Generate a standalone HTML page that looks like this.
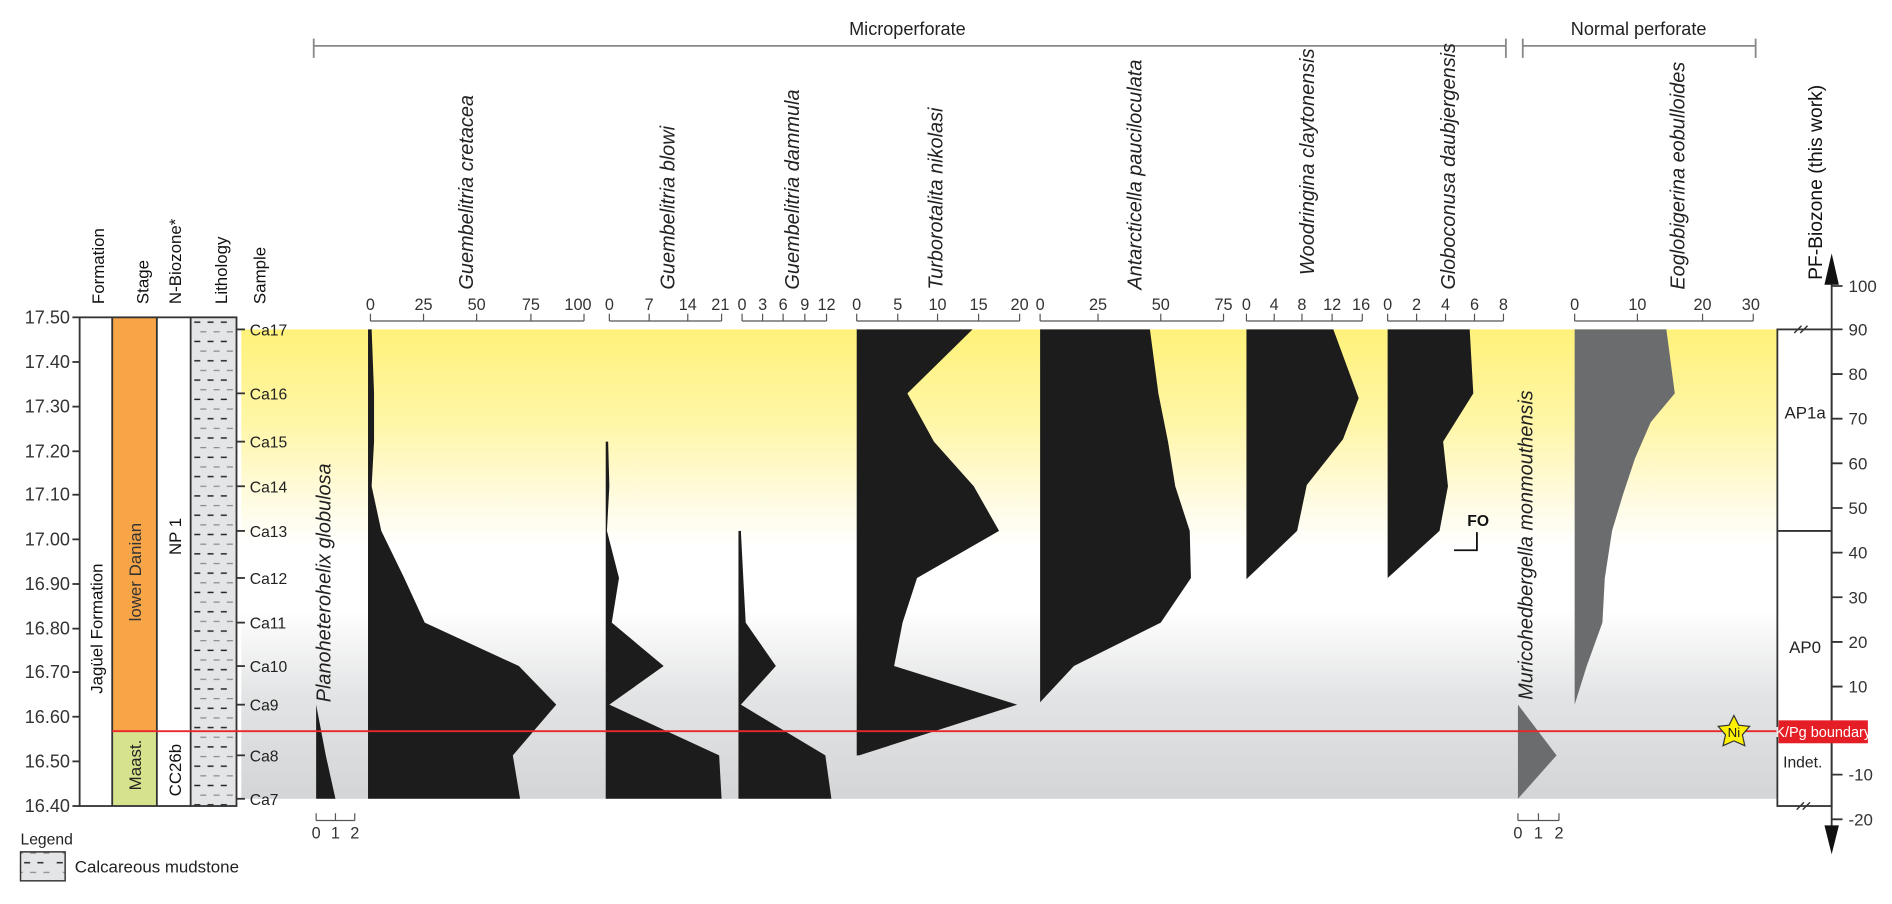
<!DOCTYPE html>
<html><head><meta charset="utf-8"><style>
html,body{margin:0;padding:0;background:#fff;}
svg{display:block;font-family:"Liberation Sans",sans-serif;}
</style></head><body>
<svg width="1892" height="904" viewBox="0 0 1568 749.2" preserveAspectRatio="none" xmlns="http://www.w3.org/2000/svg">
<defs>
<linearGradient id="bg" x1="0" y1="0" x2="0" y2="1">
<stop offset="0" stop-color="#fff27a"/>
<stop offset="0.2" stop-color="#fff6a8"/>
<stop offset="0.36" stop-color="#fffbe0"/>
<stop offset="0.46" stop-color="#ffffff"/>
<stop offset="0.6" stop-color="#ffffff"/>
<stop offset="0.78" stop-color="#e3e4e5"/>
<stop offset="1" stop-color="#d4d5d7"/>
</linearGradient>
<pattern id="lith" x="158" y="263" width="38" height="16" patternUnits="userSpaceOnUse">
<rect width="38" height="16" fill="#e4e5e6"/>
<g stroke="#222" stroke-width="1.2">
<line x1="3" y1="4" x2="8" y2="4"/><line x1="14" y1="4" x2="19" y2="4"/><line x1="25" y1="4" x2="30" y2="4"/>
</g>
<g stroke="#888" stroke-width="1">
<line x1="8" y1="12" x2="13" y2="12"/><line x1="19" y1="12" x2="24" y2="12"/><line x1="30" y1="12" x2="35" y2="12"/>
</g>
</pattern>
</defs>

<rect x="200" y="273" width="1273" height="389" fill="url(#bg)"/>

<g stroke="#888" stroke-width="1.5" fill="none">
<line x1="260" y1="38" x2="1248" y2="38"/><line x1="260" y1="32" x2="260" y2="48"/><line x1="1248" y1="32" x2="1248" y2="48"/>
<line x1="1262" y1="38" x2="1455" y2="38"/><line x1="1262" y1="32" x2="1262" y2="48"/><line x1="1455" y1="32" x2="1455" y2="48"/>
</g>
<text x="752" y="29" font-size="15" text-anchor="middle" fill="#222">Microperforate</text>
<text x="1358" y="29" font-size="15" text-anchor="middle" fill="#222">Normal perforate</text>

<g font-size="14" fill="#111">
<text transform="translate(86,252) rotate(-90)">Formation</text>
<text transform="translate(123,252) rotate(-90)">Stage</text>
<text transform="translate(150,252) rotate(-90)">N-Biozone*</text>
<text transform="translate(188,252) rotate(-90)">Lithology</text>
<text transform="translate(220,252) rotate(-90)">Sample</text>
</g>

<g font-size="15" fill="#333" text-anchor="end">
<text x="58" y="268">17.50</text><text x="58" y="305">17.40</text><text x="58" y="342">17.30</text>
<text x="58" y="379">17.20</text><text x="58" y="415">17.10</text><text x="58" y="452">17.00</text>
<text x="58" y="489">16.90</text><text x="58" y="526">16.80</text><text x="58" y="562">16.70</text>
<text x="58" y="599">16.60</text><text x="58" y="636">16.50</text><text x="58" y="673">16.40</text>
</g>
<g stroke="#333" stroke-width="1.5">
<line x1="60" y1="263" x2="66" y2="263"/><line x1="60" y1="300" x2="66" y2="300"/><line x1="60" y1="337" x2="66" y2="337"/>
<line x1="60" y1="374" x2="66" y2="374"/><line x1="60" y1="410" x2="66" y2="410"/><line x1="60" y1="447" x2="66" y2="447"/>
<line x1="60" y1="484" x2="66" y2="484"/><line x1="60" y1="521" x2="66" y2="521"/><line x1="60" y1="557" x2="66" y2="557"/>
<line x1="60" y1="594" x2="66" y2="594"/><line x1="60" y1="631" x2="66" y2="631"/><line x1="60" y1="668" x2="66" y2="668"/>
</g>

<rect x="66" y="263" width="27" height="405" fill="#fff"/>
<rect x="93" y="263" width="37" height="343" fill="#f7a547"/>
<rect x="93" y="606" width="37" height="62" fill="#d7e38c"/>
<rect x="130" y="263" width="28" height="405" fill="#fff"/>
<rect x="158" y="263" width="38" height="405" fill="url(#lith)"/>
<g stroke="#333" stroke-width="1.5" fill="none">
<rect x="66" y="263" width="130" height="405"/>
<line x1="93" y1="263" x2="93" y2="668"/><line x1="130" y1="263" x2="130" y2="668"/><line x1="158" y1="263" x2="158" y2="668"/>
</g>
<g font-size="14" fill="#111">
<text transform="translate(85,575) rotate(-90)">Jagüel Formation</text>
<text transform="translate(117,515) rotate(-90)" fill="#333">lower Danian</text>
<text transform="translate(150,460) rotate(-90)">NP 1</text>
<text transform="translate(117,655) rotate(-90)" fill="#222">Maast.</text>
<text transform="translate(150,660) rotate(-90)">CC26b</text>
</g>

<g stroke="#333" stroke-width="1.5">
<line x1="196" y1="273" x2="203" y2="273"/><line x1="196" y1="326" x2="203" y2="326"/><line x1="196" y1="366" x2="203" y2="366"/>
<line x1="196" y1="403" x2="203" y2="403"/><line x1="196" y1="440" x2="203" y2="440"/><line x1="196" y1="479" x2="203" y2="479"/>
<line x1="196" y1="516" x2="203" y2="516"/><line x1="196" y1="552" x2="203" y2="552"/><line x1="196" y1="584" x2="203" y2="584"/>
<line x1="196" y1="626" x2="203" y2="626"/><line x1="196" y1="662" x2="203" y2="662"/>
</g>
<g font-size="13" fill="#222">
<text x="207" y="278">Ca17</text><text x="207" y="331">Ca16</text><text x="207" y="371">Ca15</text>
<text x="207" y="408">Ca14</text><text x="207" y="445">Ca13</text><text x="207" y="484">Ca12</text>
<text x="207" y="521">Ca11</text><text x="207" y="557">Ca10</text><text x="207" y="589">Ca9</text>
<text x="207" y="631">Ca8</text><text x="207" y="667">Ca7</text>
</g>

<g font-size="16.5" font-style="italic" fill="#222">
<text transform="translate(392,240) rotate(-90)">Guembelitria cretacea</text>
<text transform="translate(559,240) rotate(-90)">Guembelitria blowi</text>
<text transform="translate(662,240) rotate(-90)">Guembelitria dammula</text>
<text transform="translate(781,240) rotate(-90)">Turborotalita nikolasi</text>
<text transform="translate(946,240) rotate(-90)">Antarcticella pauciloculata</text>
<text transform="translate(1089,228) rotate(-90)">Woodringina claytonensis</text>
<text transform="translate(1206,240) rotate(-90)">Globoconusa daubjergensis</text>
<text transform="translate(1396,240) rotate(-90)">Eoglobigerina eobulloides</text>
<text transform="translate(274,582) rotate(-90)">Planoheterohelix globulosa</text>
<text transform="translate(1270,580) rotate(-90)">Muricohedbergella monmouthensis</text>
</g>

<g stroke="#555" stroke-width="1" fill="none">
<path d="M307,266H484M307,266v-6M351,266v-6M395,266v-6M440,266v-6M484,266v-6"/>
<path d="M505,266H598M505,266v-6M538,266v-6M570,266v-6M598,266v-6"/>
<path d="M615,266H685M615,266v-6M632,266v-6M649,266v-6M667,266v-6M685,266v-6"/>
<path d="M710,266H845M710,266v-6M744,266v-6M777,266v-6M811,266v-6M845,266v-6"/>
<path d="M862,266H1014M862,266v-6M910,266v-6M962,266v-6M1014,266v-6"/>
<path d="M1033,266H1129M1033,266v-6M1056,266v-6M1079,266v-6M1104,266v-6M1129,266v-6"/>
<path d="M1150,266H1246M1150,266v-6M1174,266v-6M1198,266v-6M1222,266v-6M1246,266v-6"/>
<path d="M1305,266H1453M1305,266v-6M1357,266v-6M1411,266v-6M1453,266v-6"/>
<path d="M262,680H294M262,680v-6M278,680v-6M294,680v-6"/>
<path d="M1258,680H1292M1258,680v-6M1275,680v-6M1292,680v-6"/>
</g>
<g font-size="13.5" fill="#333" text-anchor="middle">
<text x="307" y="257">0</text><text x="351" y="257">25</text><text x="395" y="257">50</text><text x="440" y="257">75</text><text x="479" y="257">100</text>
<text x="505" y="257">0</text><text x="538" y="257">7</text><text x="570" y="257">14</text><text x="597" y="257">21</text>
<text x="615" y="257">0</text><text x="632" y="257">3</text><text x="649" y="257">6</text><text x="667" y="257">9</text><text x="685" y="257">12</text>
<text x="710" y="257">0</text><text x="744" y="257">5</text><text x="777" y="257">10</text><text x="811" y="257">15</text><text x="845" y="257">20</text>
<text x="862" y="257">0</text><text x="910" y="257">25</text><text x="962" y="257">50</text><text x="1014" y="257">75</text>
<text x="1033" y="257">0</text><text x="1056" y="257">4</text><text x="1079" y="257">8</text><text x="1104" y="257">12</text><text x="1128" y="257">16</text>
<text x="1150" y="257">0</text><text x="1174" y="257">2</text><text x="1198" y="257">4</text><text x="1222" y="257">6</text><text x="1246" y="257">8</text>
<text x="1305" y="257">0</text><text x="1357" y="257">10</text><text x="1411" y="257">20</text><text x="1451" y="257">30</text>
<text x="262" y="695">0</text><text x="278" y="695">1</text><text x="294" y="695">2</text>
<text x="1258" y="695">0</text><text x="1275" y="695">1</text><text x="1292" y="695">2</text>
</g>

<g fill="#1c1c1c">
<polygon points="305,273 308,273 310,326 310,366 308,403 316,440 335,479 352,516 430,552 461,584 425,626 431,662 305,662"/>
<polygon points="502,366 504,366 505,403 503,440 513,479 507,516 550,552 505,584 596,626 598,662 502,662"/>
<polygon points="612,440 614,440 616,479 618,516 643,552 614,584 684,626 689,662 612,662"/>
<polygon points="710,273 806,273 752,326 774,366 807,403 828,440 760,479 748,516 741,552 843,584 712,626 710,626"/>
<polygon points="862,273 953,273 960,326 968,366 974,403 986,440 987,479 962,516 890,552 862,582"/>
<polygon points="1033,273 1105,273 1126,330 1113,364 1083,402 1075,440 1033,480"/>
<polygon points="1150,273 1218,273 1221,326 1196,366 1200,403 1193,440 1150,479"/>
<polygon points="262,584 270,626 278,662 262,662"/>
</g>
<g fill="#6b6c6e">
<polygon points="1305,273 1381,273 1388,326 1368,350 1355,380 1345,410 1336,440 1330,479 1328,516 1315,552 1305,584"/>
<polygon points="1258,584 1290,626 1258,662"/>
</g>

<text x="1216" y="436" font-size="13" font-weight="bold" fill="#111">FO</text>
<path d="M1224,441V456H1205" stroke="#111" stroke-width="1.5" fill="none"/>

<line x1="93" y1="606" x2="1478" y2="606" stroke="#e8262b" stroke-width="1.5"/>

<rect x="1473" y="273" width="45" height="395" fill="#fff" stroke="#333" stroke-width="1.5"/>
<line x1="1473" y1="440" x2="1518" y2="440" stroke="#333" stroke-width="1.5"/>
<g stroke="#333" stroke-width="1.2"><path d="M1487,276l6,-6M1492,276l6,-6M1489,671l6,-6M1494,671l6,-6"/></g>
<g font-size="14" fill="#222" text-anchor="middle">
<text x="1496" y="347">AP1a</text><text x="1496" y="541">AP0</text><text x="1494" y="636" font-size="13">Indet.</text>
</g>
<text transform="translate(1510,232) rotate(-90)" font-size="16" fill="#111">PF-Biozone (this work)</text>
<line x1="1518" y1="230" x2="1518" y2="690" stroke="#333" stroke-width="1.5"/>
<polygon points="1518,210 1512,236 1524,236" fill="#111"/>
<polygon points="1518,708 1512,684 1524,684" fill="#111"/>
<g stroke="#333" stroke-width="1.5">
<path d="M1518,237h9M1518,273h9M1518,310h9M1518,347h9M1518,384h9M1518,421h9M1518,458h9M1518,495h9M1518,532h9M1518,569h9M1518,642h9M1518,679h9"/>
</g>
<g font-size="14" fill="#333">
<text x="1532" y="242">100</text><text x="1532" y="278">90</text><text x="1532" y="315">80</text><text x="1532" y="352">70</text>
<text x="1532" y="389">60</text><text x="1532" y="426">50</text><text x="1532" y="463">40</text><text x="1532" y="500">30</text>
<text x="1532" y="537">20</text><text x="1532" y="574">10</text><text x="1532" y="647">-10</text><text x="1532" y="684">-20</text>
</g>

<polygon points="1437,593 1441,601 1450,602 1444,609 1446,618 1437,614 1428,618 1430,609 1424,602 1433,601" fill="#fff200" stroke="#333" stroke-width="1"/>
<text x="1437" y="611" font-size="11" text-anchor="middle" fill="#222">Ni</text>
<rect x="1474" y="597" width="74" height="19" fill="#e51d25"/>
<text x="1511" y="611" font-size="12" text-anchor="middle" fill="#fff">K/Pg boundary</text>

<text x="17" y="700" font-size="13" fill="#222">Legend</text>
<rect x="17" y="706" width="37" height="24" fill="url(#lith)" stroke="#333" stroke-width="1.2"/>
<text x="62" y="723" font-size="14" fill="#222">Calcareous mudstone</text>
</svg>
</body></html>
